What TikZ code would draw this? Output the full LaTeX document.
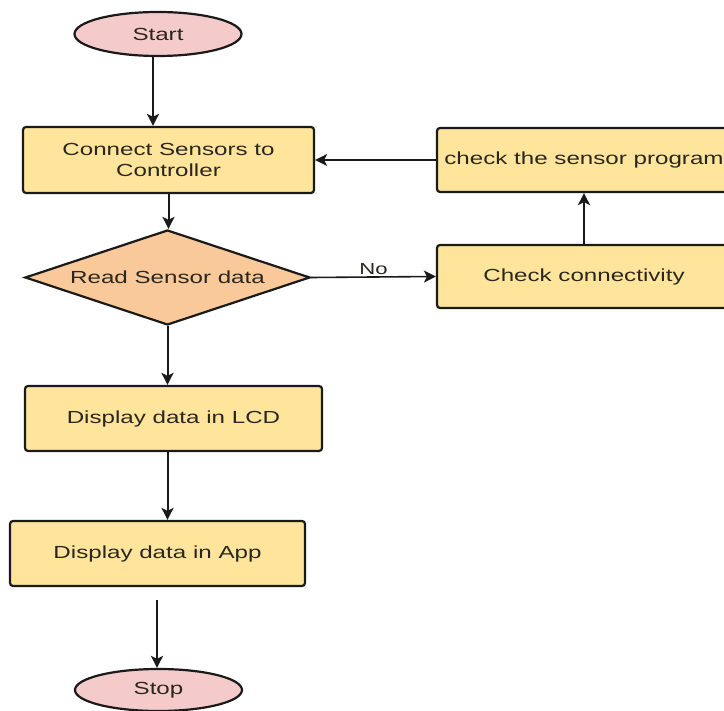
\documentclass[tikz,border=0pt]{standalone}
\usepackage{fontspec}
\setmainfont{Liberation Sans}[FakeStretch=1.38]
\usetikzlibrary{shapes.geometric,arrows.meta}
\definecolor{boxfill}{HTML}{FFE49C}
\definecolor{decfill}{HTML}{F9C99A}
\definecolor{termfill}{HTML}{F4CACA}
\definecolor{ink}{HTML}{1A1A1A}
\definecolor{txt}{HTML}{2A2720}
\tikzset{
  base/.style={draw=ink, line width=2.2pt, text=txt, font=\fontsize{17.5}{21}\selectfont, align=center, inner sep=0pt},
  proc/.style={base, fill=boxfill, rounded corners=3pt, minimum height=65pt},
  dec/.style={base, diamond, aspect=3, fill=decfill, minimum width=285pt, minimum height=95pt},
  term/.style={base, ellipse, fill=termfill, minimum width=167pt, minimum height=44pt},
  arr/.style={draw=ink, line width=2pt, -{Stealth[length=12pt,width=12pt,inset=3pt]}},
  thin arr/.style={arr, line width=1.6pt}
}
\begin{document}
\begin{tikzpicture}[x=1pt,y=-1pt]
\clip (0,0) rectangle (724,711);
\fill[white] (0,0) rectangle (724,711);
\node[term] (start) at (158,34) {Start};
\node[proc, minimum width=291pt, minimum height=66pt] (conn) at (168.5,160) {Connect Sensors to\\Controller};
\node[dec] (read) at (167.5,277.5) {Read Sensor data};
\node[proc, minimum width=294pt, minimum height=64pt] (prog) at (584,160) {check the sensor program};
\node[proc, minimum width=294pt, minimum height=63pt] (chk) at (584,276.5) {Check connectivity};
\node[proc, minimum width=297pt] (lcd) at (173.5,418.5) {Display data in LCD};
\node[proc, minimum width=295pt] (app) at (157.5,553.5) {Display data in App};
\node[term, minimum height=42pt] (stop) at (158.5,690) {Stop};
\coordinate (s0) at (157,600);

\draw[arr] ([xshift=-5pt]start.south) -- ([xshift=-5pt]start.south |- conn.north);
\draw[arr] (conn.south) -- (conn.south |- read.north);
\draw[thin arr] (read.east) -- node[pos=0.5, above=1pt, text=txt, font=\fontsize{16}{19}\selectfont, inner sep=1pt] {No} (chk.west);
\draw[arr] (chk.north) -- (prog.south);
\draw[thin arr] (prog.west) -- (conn.east);
\draw[arr] (read.south) -- (read.south |- lcd.north);
\draw[arr] (read.south |- lcd.south) -- (read.south |- app.north);
\draw[arr] (s0) -- (s0 |- stop.north);
\end{tikzpicture}
\end{document}
